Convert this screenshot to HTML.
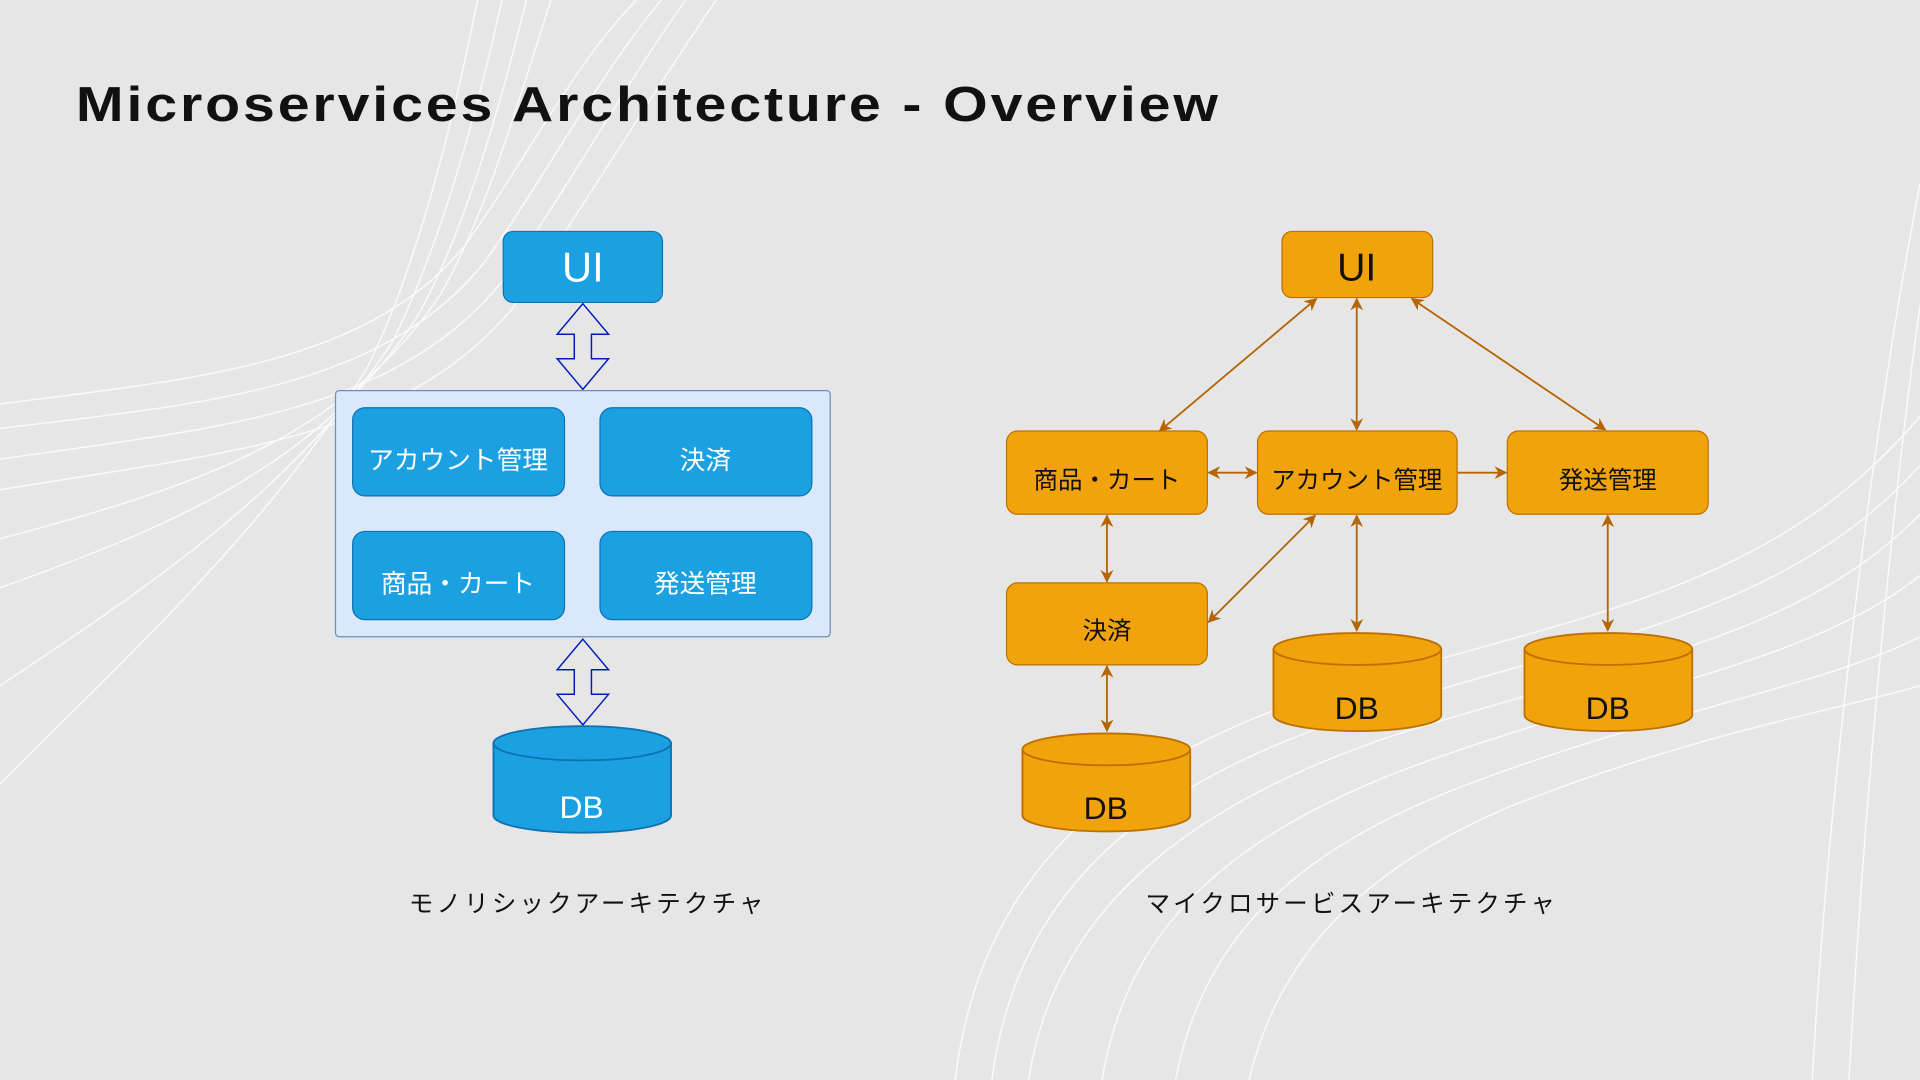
<!DOCTYPE html>
<html><head><meta charset="utf-8"><style>
html,body{margin:0;padding:0;background:#e7e6e6;}
svg{display:block;}
text{font-family:"Liberation Sans","Noto Sans CJK JP",sans-serif;}
</style></head><body>
<svg width="1920" height="1080" viewBox="0 0 1568 882" xmlns="http://www.w3.org/2000/svg">
<defs>
<marker id="a" viewBox="0 0 10 10" refX="9" refY="5" markerWidth="7" markerHeight="7" orient="auto-start-reverse"><path d="M0,0 L10,5 L0,10 L3,5z" fill="#b46504"/></marker>
</defs>
<rect width="1568" height="882" fill="#e7e6e6"/>
<g fill="none" stroke="#ffffff" stroke-width="1.2" opacity="0.8">
<path d="M0,330 C150,310 300,300 380,200 C430,130 470,50 520,0"/>
<path d="M0,350 C160,330 310,320 395,215 C445,145 490,60 540,0"/>
<path d="M0,375 C170,350 320,340 410,230 C460,160 510,70 560,0"/>
<path d="M0,400 C180,370 330,360 420,250 C470,180 530,80 585,0"/>
<path d="M0,440 C150,400 280,360 360,240 C400,170 430,60 450,0"/>
<path d="M0,480 C140,430 260,380 340,260 C380,190 410,80 430,0"/>
<path d="M0,560 C120,480 240,400 320,280 C360,200 390,90 410,0"/>
<path d="M0,640 C100,540 220,430 300,300 C340,220 370,100 390,0"/>
<path d="M780,882 C800,720 900,620 1100,560 C1300,500 1450,480 1568,340"/>
<path d="M810,882 C830,730 930,640 1120,580 C1310,520 1460,500 1568,380"/>
<path d="M840,882 C860,750 960,660 1140,600 C1330,540 1470,520 1568,420"/>
<path d="M900,882 C920,760 1000,680 1170,620 C1340,560 1480,540 1568,470"/>
<path d="M960,882 C980,780 1040,700 1200,640 C1360,580 1490,560 1568,520"/>
<path d="M1020,882 C1040,800 1090,720 1230,660 C1380,600 1500,580 1568,560"/>
<path d="M1480,882 C1490,700 1520,400 1568,150"/>
<path d="M1510,882 C1520,700 1540,450 1568,250"/>
</g>
<text x="62" y="99" font-size="40" font-weight="bold" fill="#111" letter-spacing="2" textLength="935" lengthAdjust="spacingAndGlyphs">Microservices Architecture - Overview</text>

<!-- Left monolith -->
<rect x="411" y="189" width="130" height="58" rx="8" fill="#1ba1e2" stroke="#1071b0"/>
<text x="476" y="230" font-size="34" fill="#fff" text-anchor="middle">UI</text>
<path d="M476,248 L497,273 L483,273 L483,293 L497,293 L476,318 L455,293 L469,293 L469,273 L455,273 Z" fill="#e7e6e6" stroke="#001dbc" stroke-width="1.2"/>
<rect x="274" y="319" width="404" height="201" rx="3" fill="#dae8fc" stroke="#6c8ebf"/>
<g fill="#1ba1e2" stroke="#1071b0">
<rect x="288" y="333" width="173" height="72" rx="10"/>
<rect x="490" y="333" width="173" height="72" rx="10"/>
<rect x="288" y="434" width="173" height="72" rx="10"/>
<rect x="490" y="434" width="173" height="72" rx="10"/>
</g>
<g font-size="21" fill="#fff" text-anchor="middle">
<text x="374" y="383">アカウント管理</text>
<text x="576" y="383">決済</text>
<text x="374" y="484">商品・カート</text>
<text x="576" y="484">発送管理</text>
</g>
<path d="M476,522 L497,547 L483,547 L483,567 L497,567 L476,592 L455,567 L469,567 L469,547 L455,547 Z" fill="#e7e6e6" stroke="#001dbc" stroke-width="1.2"/>
<path d="M403,607 L403,666 A72.5,14 0 0 0 548,666 L548,607 Z" fill="#1ba1e2" stroke="#1071b0" stroke-width="1.5"/>
<ellipse cx="475.5" cy="607" rx="72.5" ry="14" fill="#1ba1e2" stroke="#1071b0" stroke-width="1.5"/>
<text x="475" y="668" font-size="26" fill="#fff" text-anchor="middle">DB</text>
<text x="480" y="745" font-size="20" fill="#111" text-anchor="middle" letter-spacing="2.6">モノリシックアーキテクチャ</text>

<!-- Right microservices -->
<g fill="#f0a30a" stroke="#bd7000">
<rect x="1047" y="189" width="123" height="54" rx="8"/>
<rect x="822" y="352" width="164" height="68" rx="9"/>
<rect x="1027" y="352" width="163" height="68" rx="9"/>
<rect x="1231" y="352" width="164" height="68" rx="9"/>
<rect x="822" y="476" width="164" height="67" rx="9"/>
</g>
<text x="1108" y="229" font-size="32" fill="#111" text-anchor="middle">UI</text>
<g font-size="20" fill="#111" text-anchor="middle">
<text x="904" y="399">商品・カート</text>
<text x="1108" y="399">アカウント管理</text>
<text x="1313" y="399">発送管理</text>
<text x="904" y="522">決済</text>
</g>
<g stroke="#b46504" stroke-width="1.5" fill="none" marker-end="url(#a)">
<line x1="1075" y1="244" x2="947" y2="352" marker-start="url(#a)"/>
<line x1="1108" y1="244" x2="1108" y2="351" marker-start="url(#a)"/>
<line x1="1153" y1="244" x2="1311" y2="351" marker-start="url(#a)"/>
<line x1="987" y1="386" x2="1026" y2="386" marker-start="url(#a)"/>
<line x1="1190" y1="386" x2="1230" y2="386"/>
<line x1="904" y1="421" x2="904" y2="475" marker-start="url(#a)"/>
<line x1="1074" y1="421" x2="987" y2="508" marker-start="url(#a)"/>
<line x1="1108" y1="421" x2="1108" y2="515" marker-start="url(#a)"/>
<line x1="1313" y1="421" x2="1313" y2="515" marker-start="url(#a)"/>
<line x1="904" y1="544" x2="904" y2="597" marker-start="url(#a)"/>
</g>
<g fill="#f0a30a" stroke="#bd7000" stroke-width="1.5">
<path d="M1040,530 L1040,584 A68.5,13 0 0 0 1177,584 L1177,530 Z"/>
<ellipse cx="1108.5" cy="530" rx="68.5" ry="13"/>
<path d="M1245,530 L1245,584 A68.5,13 0 0 0 1382,584 L1382,530 Z"/>
<ellipse cx="1313.5" cy="530" rx="68.5" ry="13"/>
<path d="M835,612 L835,666 A68.5,13 0 0 0 972,666 L972,612 Z"/>
<ellipse cx="903.5" cy="612" rx="68.5" ry="13"/>
</g>
<g font-size="26" fill="#111" text-anchor="middle">
<text x="1108" y="587">DB</text>
<text x="1313" y="587">DB</text>
<text x="903" y="669">DB</text>
</g>
<text x="1104" y="745" font-size="20" fill="#111" text-anchor="middle" letter-spacing="2.6">マイクロサービスアーキテクチャ</text>
</svg>
</body></html>
